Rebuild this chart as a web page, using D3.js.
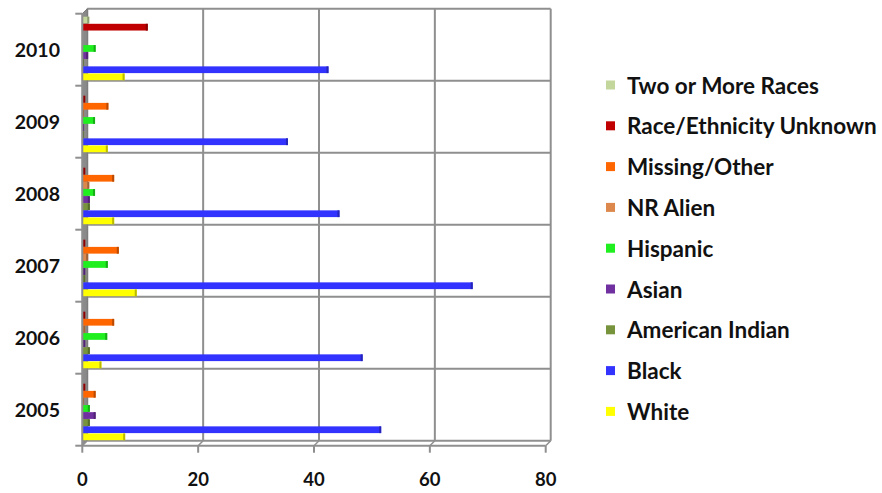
<!DOCTYPE html>
<html><head><meta charset="utf-8">
<script src="https://cdn.jsdelivr.net/npm/d3@7"></script>
<style>body{margin:0;background:#fff}svg{display:block}</style>
</head><body>
<svg id="c" width="882" height="493"></svg>
<script>
// ---- data ----
const years = ["2010","2009","2008","2007","2006","2005"];
const seriesNames = ["Two or More Races","Race/Ethnicity Unknown","Missing/Other","NR Alien","Hispanic","Asian","American Indian","Black","White"];
const seriesColors = ["#c3d69b","#c00000","#ff6600","#dc884c","#1fef1f","#7030a0","#77933c","#3333ff","#ffff00"];
// values listed in the order of `years` (2010 ... 2005)
const twoOrMore   = [1.2, 0, 0, 0, 0, 0];
const unknownRace = [11.3, 0.5, 0.5, 0.5, 0.5, 0.5];
const missingOther= [0, 4.5, 5.5, 6.3, 5.5, 2.3];
const nrAlien     = [0, 0.3, 1.2, 1.0, 0.5, 0.3];
const hispanic    = [2.3, 2.2, 2.2, 4.4, 4.3, 1.3];
const asian       = [1.0, 0.3, 1.3, 0.5, 0.5, 2.3];
const amIndian    = [0.3, 0.3, 1.3, 0.5, 1.3, 1.3];
const black       = [42.5, 35.5, 44.4, 67.4, 48.4, 51.6];
const white       = [7.3, 4.4, 5.5, 9.4, 3.3, 7.4];
const xTicks = [0, 20, 40, 60, 80];

const seriesValues = [twoOrMore, unknownRace, missingOther, nrAlien, hispanic, asian, amIndian, black, white];

// ---- layout ----
const svg = d3.select("#c");
const dx = 5, dy = -5;            // 3D depth offset of back wall
const x = d3.scaleLinear().domain([0, 80]).range([82.3, 545.7]);
const y = d3.scaleBand().domain(years).range([13.7, 445.7]).padding(0);
const inner = d3.scaleBand().domain(seriesNames).range([3, 66.5]).paddingInner(0.05);
const grid = "#8f8f8f";

// back wall gridlines
const back = svg.append("g").attr("transform", `translate(${dx},${dy})`);
back.selectAll("line.v").data(xTicks).join("line")
  .attr("x1", d => x(d)).attr("x2", d => x(d))
  .attr("y1", y.range()[0]).attr("y2", y.range()[1])
  .attr("stroke", grid).attr("stroke-width", 2);
const bounds = years.map(d => y(d)).concat([y.range()[1]]);
back.selectAll("line.h").data(bounds).join("line")
  .attr("x1", x(0)).attr("x2", x(80))
  .attr("y1", d => d).attr("y2", d => d)
  .attr("stroke", grid).attr("stroke-width", 2);

// left side wall
svg.append("path")
  .attr("d", `M${x(0)},${y.range()[0]} L${x(0)+dx},${y.range()[0]+dy} L${x(0)+dx},${y.range()[1]+dy} L${x(0)},${y.range()[1]} Z`)
  .attr("fill", "#8a8a8a").attr("stroke", "#7a7a7a").attr("stroke-width", 1);

// bars
const groups = svg.append("g").selectAll("g").data(years).join("g")
  .attr("transform", d => `translate(0,${y(d)})`);
seriesNames.forEach((name, si) => {
  const col = seriesColors[si];
  const vals = seriesValues[si];
  groups.append("rect")
    .attr("x", x(0))
    .attr("y", inner(name))
    .attr("width", (d, i) => Math.max(0, x(vals[i]) - x(0)))
    .attr("height", inner.bandwidth())
    .attr("fill", col);
  groups.append("rect")
    .attr("x", (d, i) => Math.max(x(0), x(vals[i]) - 2))
    .attr("y", inner(name))
    .attr("width", (d, i) => vals[i] > 0 ? Math.min(2, x(vals[i]) - x(0)) : 0)
    .attr("height", inner.bandwidth())
    .attr("fill", d3.color(col).darker(0.9));
});

// front axes
svg.append("line").attr("x1", x(0)).attr("x2", x(0))
  .attr("y1", y.range()[0]).attr("y2", y.range()[1])
  .attr("stroke", grid).attr("stroke-width", 2);
svg.append("line").attr("x1", x(0)).attr("x2", x(80))
  .attr("y1", y.range()[1]).attr("y2", y.range()[1])
  .attr("stroke", grid).attr("stroke-width", 2);
// left ticks
svg.selectAll("line.lt").data(bounds).join("line")
  .attr("x1", x(0) - 7).attr("x2", x(0))
  .attr("y1", d => d).attr("y2", d => d)
  .attr("stroke", grid).attr("stroke-width", 2);
// bottom ticks
svg.selectAll("line.bt").data(xTicks).join("line")
  .attr("x1", d => x(d)).attr("x2", d => x(d))
  .attr("y1", y.range()[1]).attr("y2", y.range()[1] + 7)
  .attr("stroke", grid).attr("stroke-width", 2);
svg.selectAll("line.bd").data(xTicks).join("line")
  .attr("x1", d => x(d)).attr("x2", d => x(d) + dx)
  .attr("y1", y.range()[1]).attr("y2", y.range()[1] + dy)
  .attr("stroke", grid).attr("stroke-width", 1.5);

const font = "Lato, 'Open Sans', sans-serif";
// year labels
svg.selectAll("text.yl").data(years).join("text")
  .attr("x", 60).attr("y", d => y(d) + y.bandwidth() / 2)
  .attr("text-anchor", "end").attr("dominant-baseline", "central")
  .attr("font-family", font).attr("font-weight", 700).attr("font-size", 19.5)
  .attr("fill", "#111").text(d => d);
// x tick labels
svg.selectAll("text.xl").data(xTicks).join("text")
  .attr("x", d => x(d)).attr("y", 479)
  .attr("text-anchor", "middle").attr("dominant-baseline", "central")
  .attr("font-family", font).attr("font-weight", 700).attr("font-size", 18.5)
  .attr("fill", "#111").text(d => d);

// legend
const lg = svg.append("g").selectAll("g").data(seriesNames).join("g")
  .attr("transform", (d, i) => `translate(606,${85 + i * 40.8})`);
lg.append("rect").attr("x", 0).attr("y", -4.5).attr("width", 9).attr("height", 9)
  .attr("fill", (d, i) => seriesColors[i]);
lg.append("text").attr("x", 21).attr("y", 0).attr("dominant-baseline", "central")
  .attr("font-family", font).attr("font-weight", 700).attr("font-size", 22.5)
  .attr("fill", "#111").text(d => d);
</script>
</body></html>
